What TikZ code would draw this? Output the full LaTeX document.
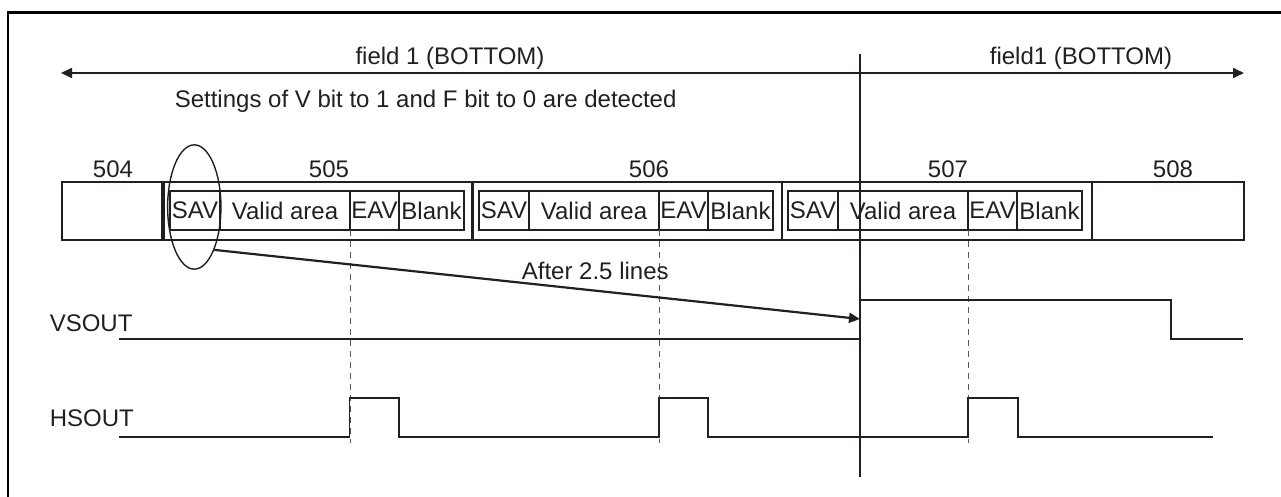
\documentclass[tikz,border=0pt]{standalone}
\usepackage{fontspec}
\setmainfont{Liberation Sans}
\usetikzlibrary{positioning,arrows.meta,shapes.geometric}
\definecolor{ink}{HTML}{231F20}

\begin{document}
\begin{tikzpicture}[
  x=0.5pt, y=-0.5pt, >={Triangle[length=5.5pt,width=5pt]}, color=ink, line width=0.8pt,
  lbl/.style={inner sep=0pt, font=\fontsize{12}{14}\selectfont},
  seg/.style={draw, anchor=north west, minimum height=29pt, inner sep=0pt, outer sep=0pt},
  cell/.style={draw, minimum height=19.5pt, inner sep=0pt, outer sep=0pt, font=\fontsize{12}{14}\selectfont},
  guide/.style={draw=ink!75, line width=0.5pt, dash pattern=on 3pt off 2.5pt},
  sig/.style={line width=0.8pt}
]
  \useasboundingbox (0,0) rectangle (1281,497);
  \draw[line width=1.25pt, black] (8,497) -- (8,12.3) -- (1281,12.3);

  \coordinate (fl) at (61,73);
  \coordinate (fr) at (1244,73);
  \draw[<->] (fl) -- (fr);
  \node[lbl, anchor=base] (field1) at (450,65) {field 1 (BOTTOM)};
  \node[lbl, anchor=base] (field2) at (1081,65) {field1 (BOTTOM)};
  \node[lbl, anchor=base west] (detect) at (174,108) {Settings of V bit to 1 and F bit to 0 are detected};

  \foreach \n/\x/\w in {504/62/50, 505/164/154, 506/473.5/154.25, 507/782/155, 508/1092/76}
    \node[seg, minimum width=\w pt] (l\n) at (\x,182) {};
  \foreach \n/\x in {504/113, 505/329, 506/649, 507/948, 508/1173}
    \node[lbl, anchor=base] (n\n) at (\x,178) {\n};

  \foreach \n/\x in {505/170, 506/479, 507/788}{
    \node[cell, anchor=west, minimum width=25pt] (sav\n) at (\x,210.5) {SAV};
    \node[cell, right=0pt of sav\n, minimum width=65pt] (valid\n) {Valid area};
    \node[cell, right=0pt of valid\n, minimum width=24.5pt] (eav\n) {EAV};
    \node[cell, right=0pt of eav\n, minimum width=32.5pt] (blank\n) {Blank};
    \draw[guide] (eav\n.south west) -- ++(0,213);
  }

  \node[ellipse, draw, line width=0.7pt, minimum width=26.65pt, minimum height=62.15pt, inner sep=0pt] (savring) at (194.3,207) {};

  \coordinate (splittop) at (860,54);
  \coordinate (splitbot) at (860,477);
  \draw (splittop) -- (splitbot);

  \coordinate (vsrise) at (860,319);
  \draw[->, line width=1.1pt] (savring.-65) -- node[lbl, pos=0.59, above=5pt] {After 2.5 lines} (vsrise);

  \node[lbl, anchor=base west] (vsout) at (49,332) {VSOUT};
  \node[lbl, anchor=base west] (hsout) at (49,427) {HSOUT};
  \draw[sig] (119,339) -- (860,339) -- (860,300) -- (1171,300) -- (1171,339) -- (1243,339);
  \draw[sig] (119,437) -- (349.5,437) -- (349.5,398) -- (399,398) -- (399,437) -- (659,437) -- (659,398) -- (708,398) -- (708,437)
    -- (968,437) -- (968,398) -- (1018,398) -- (1018,437) -- (1213,437);
\end{tikzpicture}
\end{document}
